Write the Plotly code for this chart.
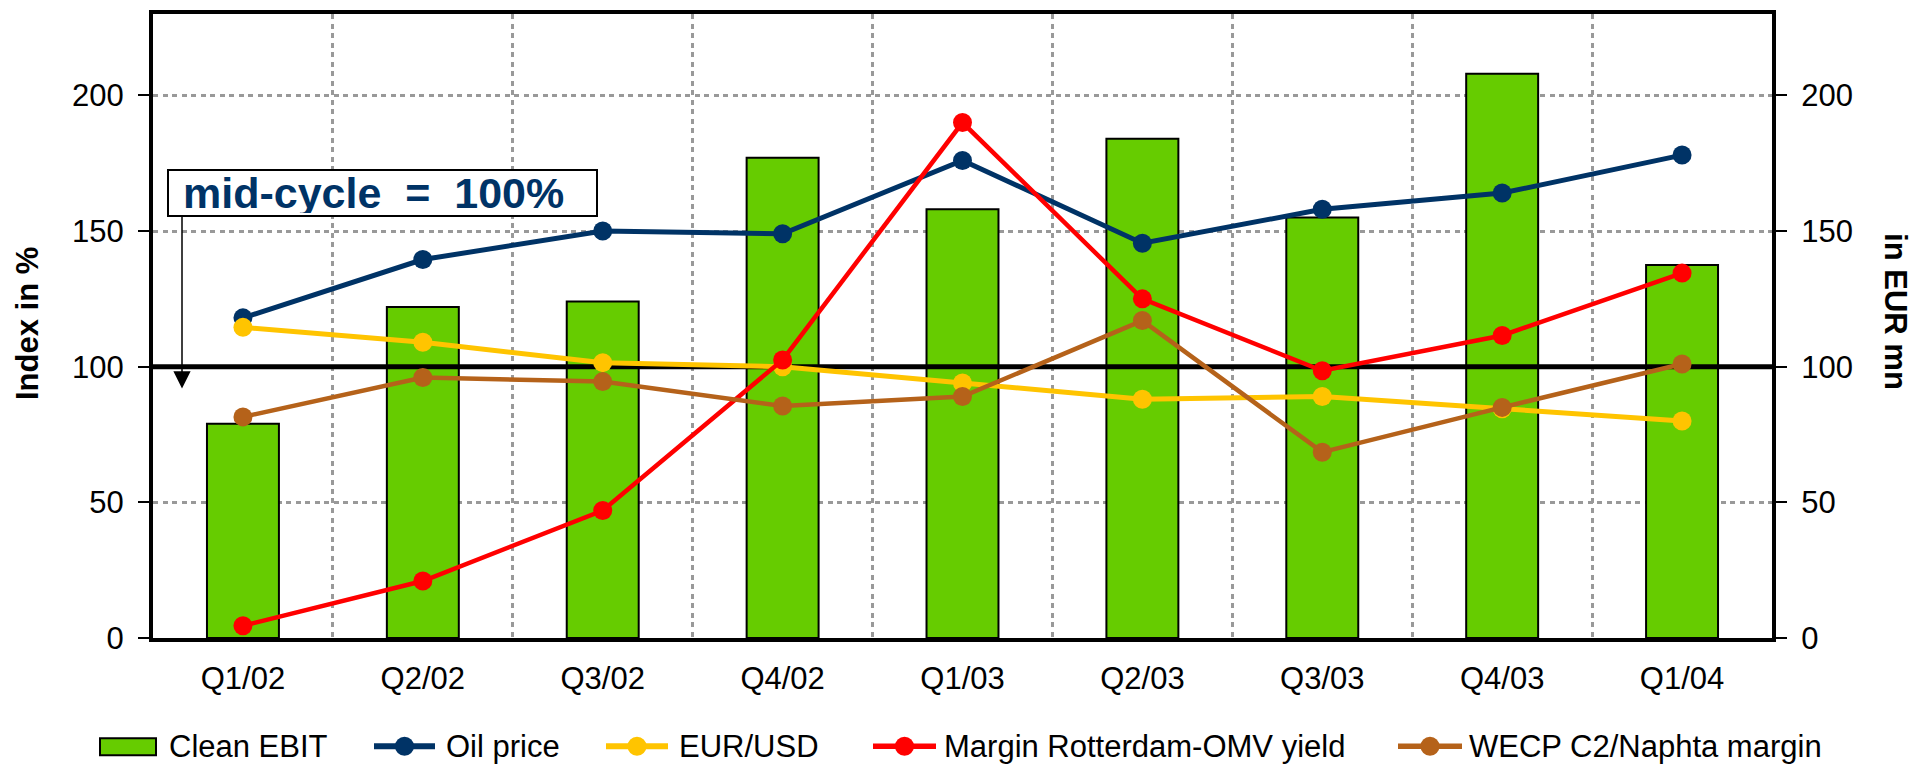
import plotly.graph_objects as go

# ---------------- data ----------------
categories = ["Q1/02", "Q2/02", "Q3/02", "Q4/02", "Q1/03", "Q2/03", "Q3/03", "Q4/03", "Q1/04"]
clean_ebit = [79, 122, 124, 177, 158, 184, 155, 208, 137.5]          # EUR mn (right axis)
oil_price = [118, 139.5, 150, 149, 176, 145.5, 158, 164, 178]        # index %
eur_usd = [114.5, 109, 101.5, 100, 94, 88, 89, 84.5, 80]
margin_rotterdam = [4.5, 21, 47, 102.5, 190, 125, 98.5, 111.5, 134.5]
wecp_margin = [81.5, 96, 94.5, 85.5, 89, 117, 68.5, 85, 101]
mid_cycle = 100

names = ["Clean EBIT", "Oil price", "EUR/USD", "Margin Rotterdam-OMV yield", "WECP C2/Naphta margin"]
y_ticks = [0, 50, 100, 150, 200]

# ---------------- styles ----------------
GREEN = "#66CC00"
NAVY = "#003366"
GOLD = "#FFC400"
RED = "#FF0000"
BROWN = "#B5621A"
GRID = "#999999"
FONT = "Arial, Liberation Sans, sans-serif"

W, H = 1923, 768
PL, PR, PT, PB = 153, 1772, 10, 638   # plot area in pixels


def px(x):
    return (x - PL) / (PR - PL)


def py(y):
    return (PB - y) / (PB - PT)


idx = list(range(len(categories)))
XRANGE = [-0.5, len(categories) - 0.5]
YRANGE = [0, 230]

fig = go.Figure()

fig.add_trace(go.Bar(
    x=idx, y=clean_ebit, name=names[0], width=0.4,
    marker=dict(color=GREEN, line=dict(color="black", width=2)),
    showlegend=False, yaxis="y"))

# mid-cycle reference line (between bars and the index lines)
fig.add_trace(go.Scatter(
    x=XRANGE, y=[mid_cycle, mid_cycle], mode="lines",
    line=dict(color="black", width=5), showlegend=False, hoverinfo="skip", yaxis="y"))

series = [
    (oil_price, names[1], NAVY, 5),
    (eur_usd, names[2], GOLD, 5),
    (margin_rotterdam, names[3], RED, 4.5),
    (wecp_margin, names[4], BROWN, 4.5),
]
for vals, nm, col, lw in series:
    fig.add_trace(go.Scatter(
        x=idx, y=vals, name=nm, mode="lines+markers",
        line=dict(color=col, width=lw),
        marker=dict(color=col, size=19),
        showlegend=False, yaxis="y2"))

axis_common = dict(
    range=YRANGE, tickmode="array", tickvals=y_ticks,
    showline=True, linecolor="black", linewidth=4,
    ticks="outside", ticklen=11, tickwidth=2, tickcolor="black",
    zeroline=False, tickfont=dict(size=31, color="black", family=FONT),
    ticklabelstandoff=8,
)

fig.update_layout(
    width=W, height=H,
    margin=dict(l=PL, r=W - PR, t=PT, b=H - PB, pad=0),
    paper_bgcolor="white", plot_bgcolor="white",
    font=dict(family=FONT, size=31, color="black"),
    showlegend=False,
    bargap=0.6,
    xaxis=dict(
        range=XRANGE, tickmode="array", tickvals=idx, ticktext=categories,
        showgrid=False, zeroline=False,
        showline=True, linecolor="black", linewidth=4, mirror=True,
        ticks="", tickfont=dict(size=31, color="black", family=FONT),
        ticklabelstandoff=10,
        minor=dict(tickmode="array", tickvals=[i + 0.5 for i in idx[:-1]],
                   showgrid=True, gridcolor=GRID, gridwidth=2.5,
                   griddash="5px,4.5px", ticks=""),
    ),
    yaxis=dict(showgrid=True, gridcolor=GRID, gridwidth=2.5,
               griddash="5px,4.5px", side="left", **axis_common),
    yaxis2=dict(overlaying="y", side="right", showgrid=False, **axis_common),
)

ann = []
shapes = []

# axis titles
ann.append(dict(text="<b>Index in %</b>", x=px(27), y=py(322), xref="paper", yref="paper",
                xanchor="center", yanchor="middle",
                textangle=-90, showarrow=False, font=dict(size=31, family=FONT, color="black")))
ann.append(dict(text="<b>in EUR mn</b>", x=px(1896), y=py(309), xref="paper", yref="paper",
                xanchor="center", yanchor="middle",
                textangle=90, showarrow=False, font=dict(size=31, family=FONT, color="black")))

# mid-cycle box + arrow
ann.append(dict(text="<b>\u00a0mid-cycle\u00a0 =\u00a0 100%</b>", x=px(167), y=py(166),
                xref="paper", yref="paper", xanchor="left", yanchor="top",
                width=423, height=40, align="left", valign="middle",
                bordercolor="black", borderwidth=2, borderpad=2, bgcolor="white",
                showarrow=False, font=dict(size=43, family=FONT, color=NAVY)))
ann.append(dict(text="", x=px(182), y=py(387), xref="paper", yref="paper",
                ax=0, ay=-(387 - 214), showarrow=True, arrowhead=2, arrowsize=2.3,
                arrowwidth=1.5, arrowcolor="black"))

# manual legend
LY = 747
shapes.append(dict(type="rect", xref="paper", yref="paper",
                   x0=px(100), x1=px(156), y0=py(756), y1=py(739),
                   fillcolor=GREEN, line=dict(color="black", width=2)))
ann.append(dict(text=names[0], x=px(167), y=py(LY), xref="paper", yref="paper",
                xanchor="left", yanchor="middle", showarrow=False,
                font=dict(size=31, family=FONT, color="black")))
legend_pos = [(374, 435, 444), (606, 668, 677), (873, 936, 942), (1398, 1462, 1467)]
for (vals, nm, col, lw), (x0, x1, tx) in zip(series, legend_pos):
    shapes.append(dict(type="line", xref="paper", yref="paper",
                       x0=px(x0), x1=px(x1), y0=py(LY), y1=py(LY),
                       line=dict(color=col, width=lw + 1)))
    shapes.append(dict(type="circle", xref="paper", yref="paper",
                       xsizemode="pixel", ysizemode="pixel",
                       xanchor=px((x0 + x1) / 2), yanchor=py(LY),
                       x0=-9.5, x1=9.5, y0=-9.5, y1=9.5,
                       fillcolor=col, line=dict(width=0)))
    ann.append(dict(text=nm, x=px(tx), y=py(LY), xref="paper", yref="paper",
                    xanchor="left", yanchor="middle", showarrow=False,
                    font=dict(size=31, family=FONT, color="black")))

fig.update_layout(annotations=ann, shapes=shapes)
fig.write_html("out.html")
